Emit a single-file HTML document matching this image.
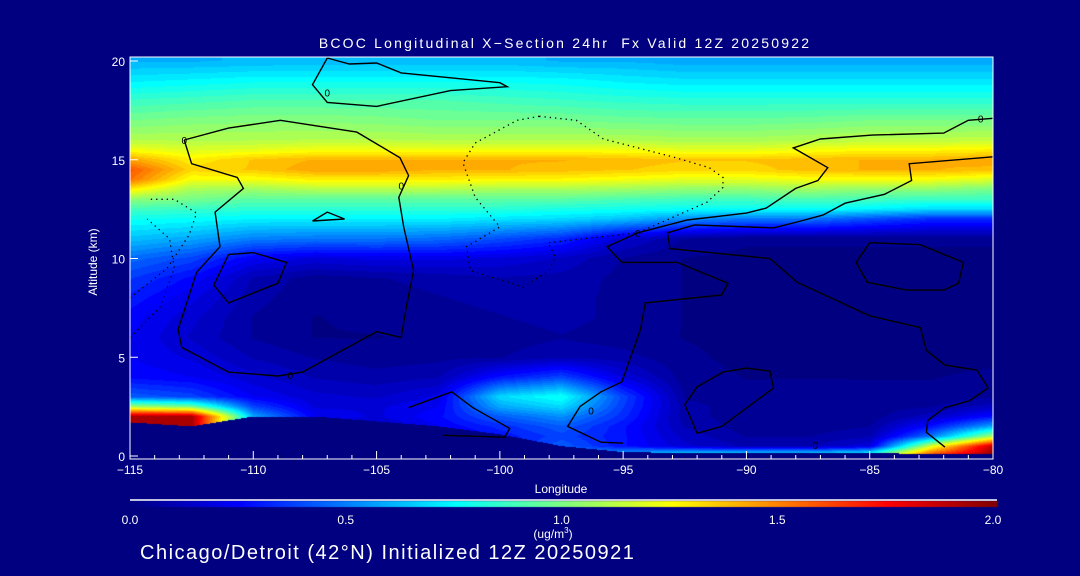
<!DOCTYPE html>
<html><head><meta charset="utf-8">
<style>
html,body{margin:0;padding:0;background:#000080;font-family:"Liberation Sans",sans-serif;}
#wrap{position:relative;width:1080px;height:576px;background:#000080;overflow:hidden;font-family:"Liberation Sans",sans-serif;color:#fff;}
canvas{position:absolute;left:0;top:0;}
svg{position:absolute;left:0;top:0;}
.lbl{position:absolute;color:#fff;font-family:"Liberation Sans",sans-serif;white-space:nowrap;}
</style></head><body>
<div id="wrap">
<canvas id="cv" width="1080" height="576"></canvas>
<svg id="sv" width="1080" height="576"></svg>
<div class="lbl" style="left:0;width:1130px;top:35px;text-align:center;font-size:14px;letter-spacing:2.2px;white-space:pre;">BCOC Longitudinal X−Section 24hr  Fx Valid 12Z 20250922</div>
<div class="lbl" style="left:93px;top:262px;transform:translate(-50%,-50%) rotate(-90deg);font-size:12px;">Altitude (km)</div>
<div class="lbl" style="left:561px;top:482px;transform:translateX(-50%);font-size:12px;">Longitude</div>
<div class="lbl" style="left:553px;top:526px;transform:translateX(-50%);font-size:12px;">(ug/m<sup style="font-size:8px">3</sup>)</div>
<div class="lbl" style="left:140px;top:542px;font-size:20px;letter-spacing:1.5px;">Chicago/Detroit (42°N) Initialized 12Z 20250921</div>
</div>
<script>
// ---- data ----
const lons = [-115,-112.5,-110,-107.5,-105,-102.5,-100,-97.5,-95,-92.5,-90,-87.5,-85,-82.5,-80];
const alts = [0,0.5,1,1.5,2,2.5,3,4,5,6,7,8,9,10,11,12,12.5,13,13.5,14,14.5,15,15.5,16,17,18,19,20];
const groundAlt = [1.7,1.5,2.0,2.0,1.75,1.5,1.1,0.5,0.2,0.15,0.15,0.15,0.15,0.1,0.1];
const conc = [
 [1.9,1.9,.3,.2,.15,.2,.3,.6,.7,.9,.9,.9,1.0,1.7,2.0],
 [1.9,1.9,.3,.2,.15,.2,.3,.45,.3,.18,.12,.12,.2,1.2,1.9],
 [1.9,1.9,.3,.2,.15,.2,.3,.4,.3,.15,.08,.08,.12,.5,1.1],
 [1.95,1.95,.5,.2,.15,.25,.35,.45,.3,.12,.06,.06,.08,.3,.6],
 [1.95,1.95,.6,.25,.2,.28,.45,.55,.35,.1,.06,.06,.06,.15,.3],
 [1.1,1.0,.4,.2,.2,.25,.6,.7,.38,.1,.06,.06,.06,.08,.15],
 [.45,.4,.25,.18,.16,.22,.7,.8,.4,.08,.05,.06,.05,.05,.08],
 [.28,.25,.18,.12,.1,.12,.3,.4,.2,.06,.04,.04,.04,.04,.05],
 [.25,.2,.12,.08,.06,.07,.08,.12,.1,.05,.03,.03,.03,.03,.03],
 [.25,.16,.08,.04,.04,.05,.06,.08,.06,.04,.03,.03,.03,.03,.03],
 [.27,.18,.08,.04,.05,.06,.08,.1,.07,.04,.03,.03,.03,.03,.03],
 [.32,.22,.1,.05,.06,.08,.1,.1,.07,.04,.03,.03,.03,.03,.03],
 [.38,.28,.12,.06,.08,.1,.12,.11,.07,.04,.03,.03,.03,.03,.03],
 [.48,.4,.25,.2,.22,.22,.2,.16,.08,.04,.03,.03,.03,.03,.03],
 [.65,.6,.52,.5,.5,.48,.42,.35,.18,.08,.05,.05,.05,.05,.05],
 [.8,.78,.75,.75,.75,.75,.72,.7,.65,.55,.5,.5,.42,.35,.35],
 [.9,.88,.85,.85,.85,.85,.85,.82,.8,.78,.78,.78,.75,.7,.7],
 [1.05,1.0,.95,.95,.95,.95,.95,.95,.92,.9,.9,.92,.9,.88,.88],
 [1.3,1.1,1.08,1.12,1.12,1.12,1.1,1.1,1.08,1.05,1.05,1.08,1.05,1.05,1.0],
 [1.55,1.25,1.25,1.3,1.3,1.3,1.28,1.28,1.25,1.22,1.22,1.25,1.25,1.25,1.2],
 [1.6,1.35,1.38,1.45,1.45,1.42,1.42,1.4,1.38,1.35,1.35,1.4,1.42,1.42,1.4],
 [1.45,1.3,1.38,1.42,1.42,1.42,1.42,1.42,1.4,1.38,1.38,1.4,1.42,1.42,1.45],
 [1.25,1.2,1.22,1.25,1.25,1.25,1.25,1.25,1.25,1.22,1.22,1.25,1.28,1.28,1.3],
 [1.12,1.12,1.12,1.13,1.13,1.12,1.12,1.12,1.12,1.1,1.1,1.12,1.14,1.14,1.15],
 [1.0,1.02,1.03,1.03,1.02,1.0,1.0,1.0,.98,.97,.97,.98,1.0,1.0,1.0],
 [.88,.9,.92,.92,.92,.92,.9,.88,.86,.85,.85,.85,.85,.85,.85],
 [.74,.76,.78,.78,.78,.78,.78,.77,.74,.72,.72,.72,.72,.72,.72],
 [.62,.62,.63,.64,.64,.64,.64,.62,.62,.6,.6,.6,.6,.6,.6]
];
const xTicks = [-115,-110,-105,-100,-95,-90,-85,-80];
const xTickLabels = ["\u2212115","\u2212110","\u2212105","\u2212100","\u221295","\u221290","\u221285","\u221280"];
const yTicks = [0,5,10,15,20];
const cbTicks = [0,0.5,1.0,1.5,2.0];
const cbTickLabels = ["0.0","0.5","1.0","1.5","2.0"];
const contourLeft = [[-112.8,16.0],[-111.0,16.6],[-108.9,17.0],[-105.8,16.4],[-104.05,15.1],[-103.7,14.2],[-104.1,13.1],[-103.9,11.6],[-103.5,9.4],[-103.8,7.5],[-104.0,6.0],[-105.0,6.3],[-108.0,4.25],[-109.0,4.05],[-111.0,4.25],[-112.9,5.5],[-113.05,6.4],[-112.3,9.3],[-111.35,10.6],[-111.55,12.35],[-110.4,13.55],[-110.65,14.1],[-112.5,14.8],[-112.8,16.0]];
const contourTop = [[-107.0,20.15],[-107.6,18.8],[-107.0,17.9],[-105.0,17.7],[-102.0,18.5],[-99.7,18.7],[-100.0,18.9],[-104.0,19.4],[-105.0,19.9],[-106.1,19.85],[-107.0,20.15]];
const contourRightUpper = [[-95.0,0.65],[-95.9,0.7],[-97.25,1.5],[-96.75,2.5],[-95.9,3.25],[-95.05,3.75],[-94.3,6.4],[-94.1,7.75],[-91.0,8.15],[-90.75,8.75],[-92.8,9.8],[-95.05,9.8],[-95.65,10.6],[-94.4,11.3],[-92.4,11.95],[-90.0,12.3],[-89.2,12.55],[-88.0,13.55],[-87.1,13.95],[-86.7,14.6],[-88.1,15.6],[-87.0,16.05],[-84.9,16.25],[-82.0,16.35],[-81.0,17.0],[-80,17.1]];
const contourRightLower = [[-80,15.15],[-83.4,14.8],[-83.3,13.95],[-84.4,13.25],[-86.0,12.8],[-86.9,12.2],[-87.95,11.85],[-88.9,11.55],[-92.1,11.7],[-93.2,11.3],[-93.1,10.5],[-89.05,10.0],[-87.95,8.8],[-85.0,7.1],[-82.95,6.5],[-82.7,5.35],[-81.95,4.6],[-80.65,4.35],[-80.2,3.45],[-80.95,2.8],[-81.95,2.45],[-82.65,1.8],[-82.7,1.2],[-81.95,0.45]];
const contourEllipseR = [[-85.0,10.8],[-82.95,10.7],[-81.2,9.8],[-81.4,8.75],[-82.0,8.4],[-83.5,8.4],[-85.1,8.8],[-85.55,9.8],[-85.0,10.8]];
const contourEllipseLow = [[-90.0,4.45],[-89.05,4.3],[-88.9,3.45],[-91.0,1.5],[-92.0,1.15],[-92.5,2.6],[-92.0,3.5],[-90.95,4.25],[-90.0,4.45]];
const contourLeftMid = [[-111.0,10.2],[-110.0,10.3],[-108.65,9.8],[-109.0,8.75],[-111.0,7.75],[-111.6,8.65],[-111.0,10.2]];
const contourTri = [[-107.6,11.9],[-107.0,12.35],[-106.3,12.0],[-107.6,11.9]];
const contourPlume = [[-103.7,2.45],[-101.95,3.25],[-101.1,2.45],[-99.6,1.4],[-99.8,0.95],[-102.3,1.05]];
const contourDotted = [[-98.4,17.2],[-99.3,17.0],[-101.0,15.85],[-101.5,14.85],[-101.0,13.1],[-100.0,11.6],[-101.35,10.6],[-101.2,9.4],[-99.05,8.55],[-98.0,9.4],[-97.75,10.1],[-98.05,10.8],[-94.4,11.3],[-91.6,12.85],[-90.95,13.6],[-90.95,14.1],[-91.5,14.6],[-93.0,15.15],[-95.8,16.05],[-96.9,17.0],[-98.4,17.2]];
const contourDotLeft1 = [[-115,8.0],[-113.5,9.5],[-112.6,11.2],[-112.3,12.3],[-113.2,13.0],[-114.2,13.0]];
const contourDotLeft2 = [[-115,6.0],[-113.8,7.5],[-113.2,9.5],[-113.4,11.0],[-114.3,12.0]];

const X0=130, X1=993, Y0=456, PXKM=19.75;
const xs = lon => X0 + (lon+115)/35*(X1-X0);
const ys = a => Y0 - a*PXKM;
const PT = 57;

function jet(t){
  t=Math.max(0,Math.min(1,t));
  const st=[[0,0,0,128],[0.125,0,0,255],[0.375,0,255,255],[0.5,128,255,128],[0.625,255,255,0],[0.875,255,0,0],[1,128,0,0]];
  for(let i=1;i<st.length;i++){ if(t<=st[i][0]){const a=st[i-1],b=st[i],f=(t-a[0])/(b[0]-a[0]);
    return [a[1]+f*(b[1]-a[1]),a[2]+f*(b[2]-a[2]),a[3]+f*(b[3]-a[3])];}}
  return [128,0,0];
}
function idx(arr,v){let i=0;while(i<arr.length-2&&v>arr[i+1])i++;let f=(v-arr[i])/(arr[i+1]-arr[i]);return [i,Math.max(0,Math.min(1,f))];}

const cv=document.getElementById('cv'), ctx=cv.getContext('2d');
const W=X1-X0, H=Y0-PT;
const img=ctx.createImageData(W,H);
for(let py=0;py<H;py++){
  const a=Math.min(20,(Y0-(PT+py+0.5))/PXKM);
  const [j,fy]=idx(alts,a);
  for(let px=0;px<W;px++){
    const lon=-115+(px+0.5)/W*35;
    const [i,fx]=idx(lons,lon);
    const g=groundAlt[i]*(1-fx)+groundAlt[i+1]*fx;
    let r=0,gg=0,b=128;
    if(a>=g){
      const v=(conc[j][i]*(1-fx)+conc[j][i+1]*fx)*(1-fy)+(conc[j+1][i]*(1-fx)+conc[j+1][i+1]*fx)*fy;
      const q=Math.floor(v/2*48)/48;
      [r,gg,b]=jet(q);
    }
    const k=(py*W+px)*4; img.data[k]=r;img.data[k+1]=gg;img.data[k+2]=b;img.data[k+3]=255;
  }
}
ctx.putImageData(img,X0,PT);
for(let px=0;px<=867;px++){const c=jet(px/867);ctx.fillStyle=`rgb(${c[0]|0},${c[1]|0},${c[2]|0})`;ctx.fillRect(130+px,501,1,6);}

const NS='http://www.w3.org/2000/svg', sv=document.getElementById('sv');
function mk(tag,attrs,parent){const e=document.createElementNS(NS,tag);for(const k in attrs)e.setAttribute(k,attrs[k]);(parent||sv).appendChild(e);return e;}
function line(pts,name,dotted){
  const e=mk('polyline',{points:pts.map(p=>xs(p[0]).toFixed(1)+','+ys(p[1]).toFixed(1)).join(' '),fill:'none',stroke:'#000','stroke-width':dotted?1.3:1.4,'stroke-dasharray':dotted?'1.3,4':'none'});
  
  
}
line(contourLeft,'contour-left-zero');
line(contourTop,'contour-top-loop');
line(contourRightUpper,'contour-right-upper');
line(contourRightLower,'contour-right-lower');
line(contourEllipseR,'contour-right-loop');
line(contourEllipseLow,'contour-low-loop');
line(contourLeftMid,'contour-left-loop');
line(contourTri,'contour-small-loop');
line(contourPlume,'contour-plume-loop');
line(contourDotted,'contour-dotted',true);
line(contourDotLeft1,'contour-dotted-left-1',true);
line(contourDotLeft2,'contour-dotted-left-2',true);

const fr=mk('rect',{x:X0,y:PT,width:X1-X0,height:Y0+3-PT,fill:'none',stroke:'#fff','stroke-width':1});


for(let l=-115;l<=-80;l++){
  const major=xTicks.includes(l);
  const t=mk('line',{x1:xs(l),x2:xs(l),y1:Y0+3,y2:Y0+3-(major?8:4),stroke:'#fff','stroke-width':1});
  
  
}
xTicks.forEach((l,k)=>{
  const t=mk('text',{x:xs(l),y:474,'text-anchor':'middle','font-size':12,fill:'#fff','font-family':'Liberation Sans, sans-serif'});
  t.textContent=xTickLabels[k];
  
  
});
yTicks.forEach(a=>{
  const t=mk('line',{x1:X0,x2:X0+8,y1:ys(a),y2:ys(a),stroke:'#fff','stroke-width':1});
  
  
  const tl=mk('text',{x:125,y:ys(a)+5,'text-anchor':'end','font-size':12,fill:'#fff','font-family':'Liberation Sans, sans-serif'});
  tl.textContent=String(a);
  
  
});
const cbl=mk('line',{x1:130,x2:997,y1:500,y2:500,stroke:'#fff','stroke-width':1.5});


cbTicks.forEach((v,k)=>{
  const t=mk('text',{x:130+v/2*863,y:524,'text-anchor':'middle','font-size':12,fill:'#fff','font-family':'Liberation Sans, sans-serif'});
  t.textContent=cbTickLabels[k];
  
  
});
[[-112.8,16.0],[-104.0,13.7],[-107.0,18.4],[-108.5,4.1],[-94.4,11.3],[-80.5,17.1],[-87.2,0.55],[-96.3,2.3]].forEach(p=>{
  const t=mk('text',{x:xs(p[0]),y:ys(p[1])+4,'text-anchor':'middle','font-size':10,fill:'#000','font-family':'Liberation Sans, sans-serif'});
  t.textContent='0';
  
  
});
</script>
</body></html>
